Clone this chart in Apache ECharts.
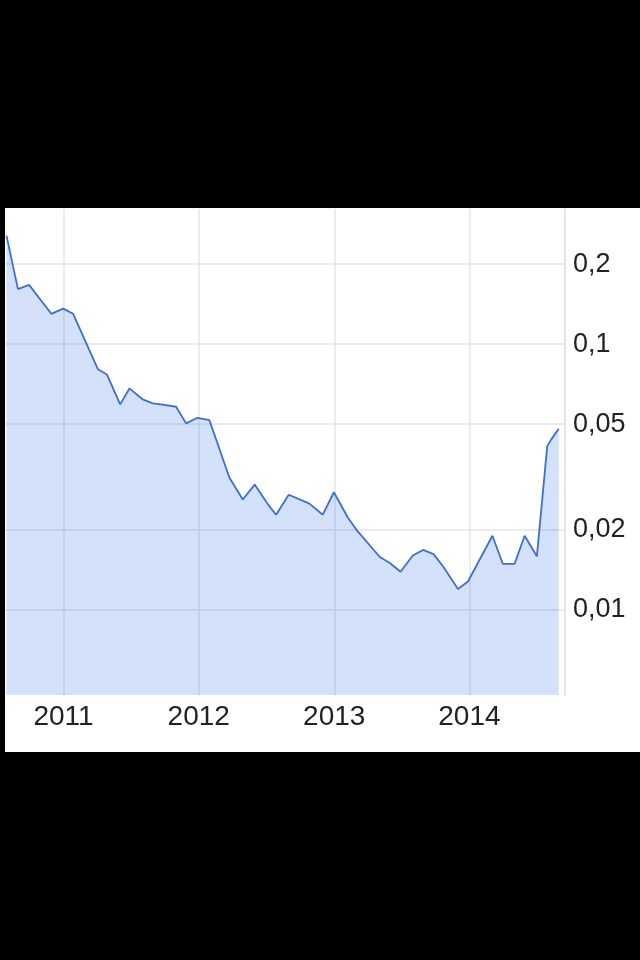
<!DOCTYPE html>
<html>
<head>
<meta charset="utf-8">
<script src="https://cdn.jsdelivr.net/npm/echarts@6/dist/echarts.min.js"></script>
<style>
  html, body { margin: 0; padding: 0; background: #000; width: 640px; height: 960px; overflow: hidden; }
  #chart { position: absolute; left: 5px; top: 208px; width: 635px; height: 544px; background: #fff; }
</style>
</head>
<body>
<div id="chart"></div>
<script>
// ---- data ----
const dates = [
  '2010-07-31','2010-08-31','2010-09-30','2010-11-29','2010-12-31',
  '2011-01-27','2011-04-04','2011-04-28','2011-06-03','2011-06-28',
  '2011-08-03','2011-08-30','2011-09-26','2011-11-01','2011-11-28',
  '2011-12-29','2012-01-30','2012-03-24','2012-04-29','2012-05-31',
  '2012-07-10','2012-07-28','2012-08-31','2012-10-26','2012-12-01',
  '2012-12-31','2013-02-07','2013-03-02','2013-05-04','2013-05-31',
  '2013-06-29','2013-08-01','2013-08-29','2013-09-26','2013-10-22',
  '2013-12-01','2013-12-28','2014-03-04','2014-04-01','2014-05-03',
  '2014-05-30','2014-07-02','2014-07-30','2014-08-10','2014-08-30'
];
const values = [
  0.256, 0.161, 0.167, 0.130, 0.136,
  0.130, 0.0804, 0.0769, 0.0593, 0.0681,
  0.0619, 0.0598, 0.0592, 0.0581, 0.0503,
  0.0528, 0.0517, 0.0314, 0.0260, 0.0296,
  0.0245, 0.0228, 0.0271, 0.0251, 0.0228,
  0.0277, 0.0222, 0.0200, 0.0158, 0.0150,
  0.0139, 0.0160, 0.0168, 0.0162, 0.01456,
  0.01197, 0.01278, 0.0190, 0.0149, 0.0149,
  0.0190, 0.0159, 0.0413, 0.0438, 0.0480
];
const yearTicks = ['2011-01-01', '2012-01-01', '2013-01-01', '2014-01-01'];
const yTicks = [0.01, 0.02, 0.05, 0.1, 0.2];
const xMin = '2010-07-27';
const xMax = '2014-09-16';
const yMin = 0.00478;
const yMax = 0.3224;

function ts(s) { return Date.parse(s + 'T00:00:00Z'); }

const chart = echarts.init(document.getElementById('chart'), null, { renderer: 'canvas' });
chart.setOption({
  animation: false,
  backgroundColor: '#fff',
  grid: { left: 0, top: 1, right: 75, bottom: 57, containLabel: false },
  xAxis: {
    type: 'value',
    min: ts(xMin),
    max: ts(xMax),
    axisLine: { show: false },
    axisTick: { show: false, customValues: yearTicks.map(ts) },
    splitLine: { show: true, lineStyle: { color: '#e4e4e4', width: 1.5 } },
    axisLabel: {
      customValues: yearTicks.map(ts),
      formatter: function (v) { return String(new Date(v).getUTCFullYear()); },
      color: '#222',
      fontFamily: 'Liberation Sans',
      fontSize: 28,
      margin: 8,
      showMinLabel: true,
      showMaxLabel: true
    }
  },
  yAxis: {
    type: 'log',
    logBase: 10,
    position: 'right',
    min: yMin,
    max: yMax,
    axisLine: { show: true, lineStyle: { color: '#dcdcdc', width: 1.5 } },
    axisTick: { show: false, customValues: yTicks },
    splitLine: { show: true, lineStyle: { color: '#e4e4e4', width: 1.5 } },
    axisLabel: {
      customValues: yTicks,
      formatter: function (v) { return String(v).replace('.', ','); },
      color: '#222',
      fontFamily: 'Liberation Sans',
      fontSize: 27,
      margin: 8,
      padding: [5, 0, 0, 0]
    }
  },
  series: [{
    type: 'line',
    data: dates.map(function (d, i) { return [ts(d), values[i]]; }),
    showSymbol: false,
    symbol: 'none',
    lineStyle: { color: '#3c70cf', width: 1.8 },
    areaStyle: { color: '#3b78e7', opacity: 0.22, origin: 'start' }
  }]
});
</script>
</body>
</html>
